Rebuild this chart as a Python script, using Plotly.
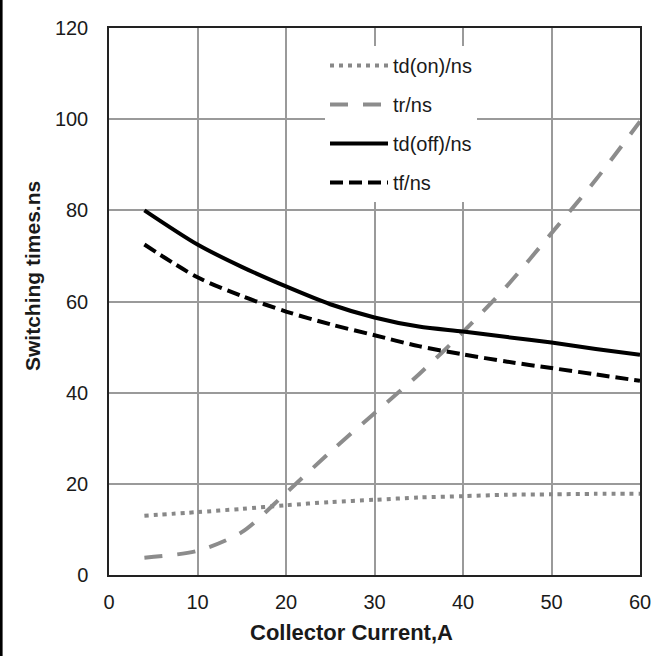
import plotly.graph_objects as go

current = [4, 10, 15, 20, 25, 30, 35, 40, 45, 50, 55, 60]
td_on = [13.0, 13.8, 14.5, 15.3, 16.0, 16.5, 17.0, 17.3, 17.6, 17.7, 17.8, 17.8]
tr = [3.8, 5.3, 9.4, 18.0, 27.0, 35.5, 44.0, 53.3, 63.5, 75.0, 86.7, 99.5]
td_off = [80.0, 72.5, 67.6, 63.3, 59.4, 56.5, 54.5, 53.4, 52.2, 51.0, 49.6, 48.3]
tf = [72.5, 65.3, 61.2, 57.8, 55.0, 52.6, 50.2, 48.4, 46.8, 45.4, 44.0, 42.6]

names = ["td(on)/ns", "tr/ns", "td(off)/ns", "tf/ns"]
x_ticks = [0, 10, 20, 30, 40, 50, 60]
y_ticks = [0, 20, 40, 60, 80, 100, 120]

FONT = "Liberation Sans, Arial, sans-serif"
W, H = 653, 656
L, R, T, B = 109, 13, 28, 81
pw, ph = W - L - R, H - T - B

styles = [
    dict(color="#888888", width=4, dash="4px,5px"),
    dict(color="#8c8c8c", width=4, dash="18px,15px"),
    dict(color="#000000", width=4, dash="solid"),
    dict(color="#000000", width=4, dash="13px,6px"),
]

fig = go.Figure()
for i, (nm, ys) in enumerate(zip(names, [td_on, tr, td_off, tf])):
    fig.add_trace(go.Scatter(
        x=current, y=ys, mode="lines", name=nm, legendgroup=nm,
        line=dict(shape="spline", smoothing=0.8, **styles[i]),
    ))

fig.update_layout(
    width=W, height=H, autosize=False,
    margin=dict(l=L, r=R, t=T, b=B, pad=0, autoexpand=False),
    paper_bgcolor="white", plot_bgcolor="white",
    font=dict(family=FONT, size=20, color="#1a1a1a"),
    showlegend=True,
    legend=dict(
        x=(325 - L) / pw, y=(575 - 46) / ph, xanchor="left", yanchor="top",
        bgcolor="white", borderwidth=0, tracegroupgap=10,
        font=dict(family=FONT, size=20, color="#1a1a1a"),
        itemwidth=58,
    ),
    xaxis=dict(
        range=[0, 60], tickvals=x_ticks, ticktext=[str(v) for v in x_ticks],
        showgrid=True, gridcolor="#9a9a9a", gridwidth=1.5,
        showline=True, linecolor="#222222", linewidth=1.5, mirror=True,
        ticks="", ticklabelstandoff=8, zeroline=False, automargin=False,
    ),
    yaxis=dict(
        range=[0, 120], tickvals=y_ticks, ticktext=[str(v) for v in y_ticks],
        showgrid=True, gridcolor="#9a9a9a", gridwidth=1.5,
        showline=True, linecolor="#222222", linewidth=1.5, mirror=True,
        ticks="", ticklabelstandoff=15, zeroline=False, automargin=False,
    ),
    annotations=[
        dict(text="<b>Collector Current,A</b>", xref="paper", yref="paper",
             x=(351 - L) / pw, y=(575 - 632) / ph, xanchor="center", yanchor="middle",
             showarrow=False, font=dict(family=FONT, size=22, color="#1a1a1a")),
        dict(text="<b>Switching times.ns</b>", xref="paper", yref="paper",
             x=(32 - L) / pw, y=(575 - 276) / ph, xanchor="center", yanchor="middle",
             textangle=-90, showarrow=False,
             font=dict(family=FONT, size=21, color="#1a1a1a")),
    ],
    shapes=[
        dict(type="line", xref="paper", yref="paper",
             x0=(1.3 - L) / pw, x1=(1.3 - L) / pw, y0=(575 - 0) / ph, y1=(575 - 656) / ph,
             line=dict(color="black", width=2.6)),
    ],
)

fig.write_html(
    "out.html",
    config={"displayModeBar": False},
    post_script="document.body.style.margin='0';document.body.style.overflow='hidden';",
)
